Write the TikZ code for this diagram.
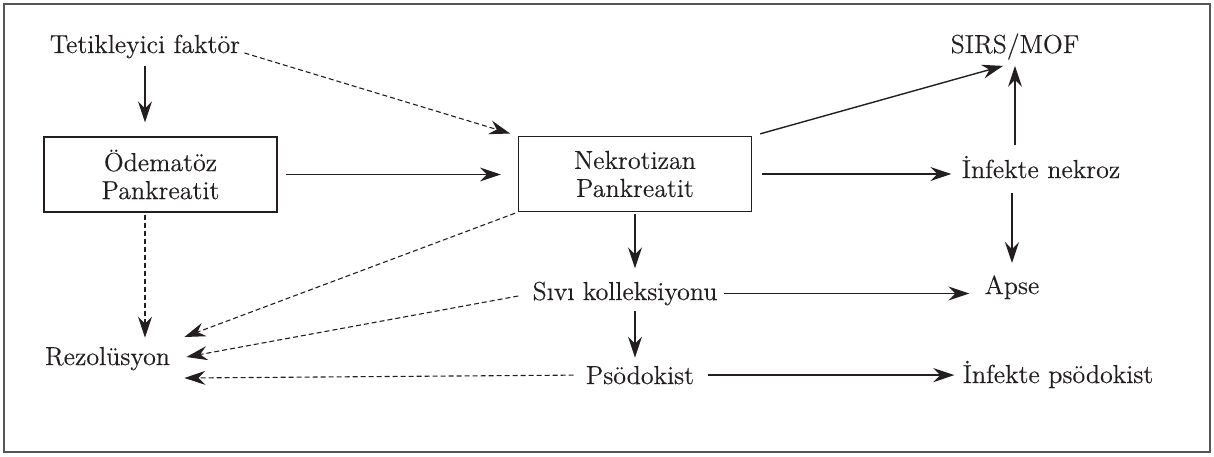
\documentclass[tikz,border=0pt]{standalone}
\usepackage{fontspec}
\setmainfont{Latin Modern Roman}[UprightFeatures={FakeBold=0.35}]
\usetikzlibrary{arrows.meta,calc}
\definecolor{ink}{HTML}{231F20}
\definecolor{framec}{HTML}{555555}
\begin{document}
\begin{tikzpicture}[x=0.5pt,y=-0.5pt,
  font=\fontsize{13}{14}\selectfont, text=ink,
  lbl/.style={inner sep=0pt,anchor=base},
  boxnode/.style={draw=ink,line width=0.65pt,inner sep=0pt,minimum width=116.5pt,minimum height=37.5pt,align=center},
  arr/.style={draw=ink,line width=0.7pt,-{Stealth[length=10.5pt,width=7pt,inset=3.5pt]}},
  darr/.style={arr,line width=0.55pt,dash pattern=on 2.5pt off 1.5pt}]
\useasboundingbox (0,0) rectangle (1214,456);
\draw[framec,line width=0.9pt] (4,4) rectangle (1210,452);

\node[lbl] (tet) at (145,53) {Tetikleyici faktör};
\node[lbl] (sirs) at (1015,53) {SIRS/MOF};
\node[boxnode] (ode) at (160.5,174.5) {Ödematöz\\Pankreatit};
\node[boxnode] (nek) at (635,174) {Nekrotizan\\Pankreatit};
\node[lbl] (inf) at (1041,178) {İnfekte nekroz};
\node[lbl] (sivi) at (625,300) {Sıvı kolleksiyonu};
\node[lbl] (apse) at (1012,294) {Apse};
\node[lbl] (rezol) at (107.5,365) {Rezolüsyon};
\node[lbl] (psod) at (640,384) {Psödokist};
\node[lbl] (infp) at (1058,383) {İnfekte psödokist};

\draw[arr,shorten <=3.5pt,shorten >=7pt] (tet.south) -- (tet.south |- ode.north);
\draw[arr,shorten <=4pt,shorten >=8.5pt] (ode.east) -- (ode.east -| nek.west);
\draw[darr,shorten >=4pt] ([xshift=2pt]tet.base east) -- (nek.north west);
\draw[arr] ([xshift=4pt,yshift=1pt]nek.north east) -- ([xshift=-6pt,yshift=-3pt]sirs.south);
\draw[arr,shorten <=16.5pt,shorten >=3pt] (sirs.south |- inf.base) -- (sirs.south);
\draw[arr,shorten <=5pt,shorten >=5pt] (nek.east) -- (nek.east -| inf.west);
\draw[arr,shorten <=7.5pt,shorten >=6pt] (apse.north |- inf.base) -- (apse.north);
\draw[arr,shorten <=1pt,shorten >=6.5pt] (nek.south) -- (nek.south |- sivi.north);
\draw[arr,shorten <=3pt,shorten >=7.5pt] (sivi.east) -- (sivi.east -| apse.west);
\draw[arr,shorten <=2.5pt,shorten >=4pt] (nek.south |- sivi.south) -- (nek.south |- psod.north);
\draw[arr,shorten <=7pt,shorten >=4pt] (psod.east) -- (psod.east -| infp.west);
\draw[darr,shorten <=1pt,shorten >=4.5pt] (tet.south |- ode.south) -- (tet.south |- rezol.north);
\draw[darr,shorten <=1.5pt] (nek.south west) -- ([xshift=7pt,yshift=14pt]rezol.base east);
\draw[darr] ([xshift=-7pt,yshift=2pt]sivi.base west) -- ([xshift=8pt,yshift=4pt]rezol.base east);
\draw[darr] ([xshift=-6pt]psod.west) -- ([xshift=7pt,yshift=-6.5pt]rezol.base east);
\end{tikzpicture}
\end{document}
